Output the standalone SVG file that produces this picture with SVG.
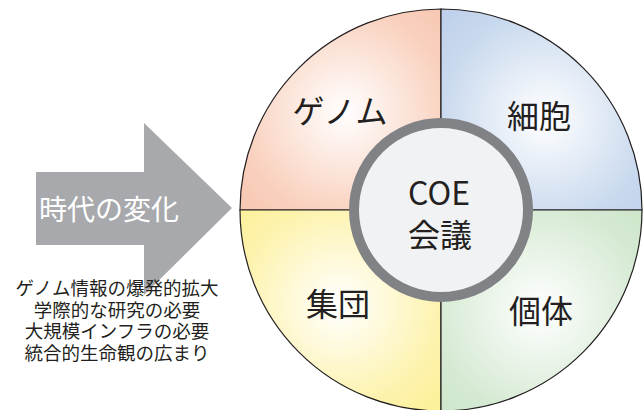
<svg xmlns="http://www.w3.org/2000/svg" width="643" height="410" viewBox="0 0 643 410">
<style>
.q{stroke:#231f20;stroke-width:1.2}
.lbl{font-family:"Noto Sans CJK JP","Liberation Sans",sans-serif;font-size:32px;fill:#231f20;text-anchor:middle}
.note{font-family:"Noto Sans CJK JP",sans-serif;font-size:18.5px;fill:#231f20;text-anchor:middle}
</style>
<defs>
<radialGradient id="gPink" gradientUnits="userSpaceOnUse" cx="345" cy="112" r="190"><stop offset="0" stop-color="#ffffff"/><stop offset="0.55" stop-color="#f9d0bd"/><stop offset="1" stop-color="#f5bca3"/></radialGradient>
<radialGradient id="gBlue" gradientUnits="userSpaceOnUse" cx="545" cy="118" r="190"><stop offset="0" stop-color="#ffffff"/><stop offset="0.55" stop-color="#c9d9ee"/><stop offset="1" stop-color="#b3c8e6"/></radialGradient>
<radialGradient id="gYellow" gradientUnits="userSpaceOnUse" cx="340" cy="305" r="190"><stop offset="0" stop-color="#ffffff"/><stop offset="0.55" stop-color="#fdf2aa"/><stop offset="1" stop-color="#fcee86"/></radialGradient>
<radialGradient id="gGreen" gradientUnits="userSpaceOnUse" cx="540" cy="310" r="190"><stop offset="0" stop-color="#ffffff"/><stop offset="0.55" stop-color="#d6ead3"/><stop offset="1" stop-color="#c2dec0"/></radialGradient>
</defs>
<g id="arrow">
<path d="M36,172 L144,172 L144,123 L232,208 L144,295 L144,245 L36,245 Z" fill="#a7a9ac"/>
<text x="109" y="220" font-family="'Noto Sans CJK JP',sans-serif" font-size="28" fill="#ffffff" text-anchor="middle">時代の変化</text>
</g>
<g id="notes">
<text class="note" x="117" y="295">ゲノム情報の爆発的拡大</text>
<text class="note" x="117" y="317">学際的な研究の必要</text>
<text class="note" x="117" y="338">大規模インフラの必要</text>
<text class="note" x="117" y="360">統合的生命観の広まり</text>
</g>
<g id="genome">
<path class="q" d="M441,210 L240,210 A201,201 0 0 1 441,9 Z" fill="url(#gPink)"/>
<text class="lbl" x="340" y="123">ゲノム</text>
</g>
<g id="cell">
<path class="q" d="M441,210 L441,9 A201,201 0 0 1 642,210 Z" fill="url(#gBlue)"/>
<text class="lbl" x="539" y="128">細胞</text>
</g>
<g id="population">
<path class="q" d="M441,210 L441,411 A201,201 0 0 1 240,210 Z" fill="url(#gYellow)"/>
<text class="lbl" x="338" y="316">集団</text>
</g>
<g id="individual">
<path class="q" d="M441,210 L642,210 A201,201 0 0 1 441,411 Z" fill="url(#gGreen)"/>
<text class="lbl" x="541" y="323">個体</text>
</g>
<g id="coe">
<circle cx="441" cy="210" r="87" fill="#f1f2f4" stroke="#808285" stroke-width="10"/>
<text class="lbl" x="439" y="205" font-family="'Liberation Sans',sans-serif" font-size="31">COE</text>
<text class="lbl" x="440" y="247">会議</text>
</g>
</svg>
